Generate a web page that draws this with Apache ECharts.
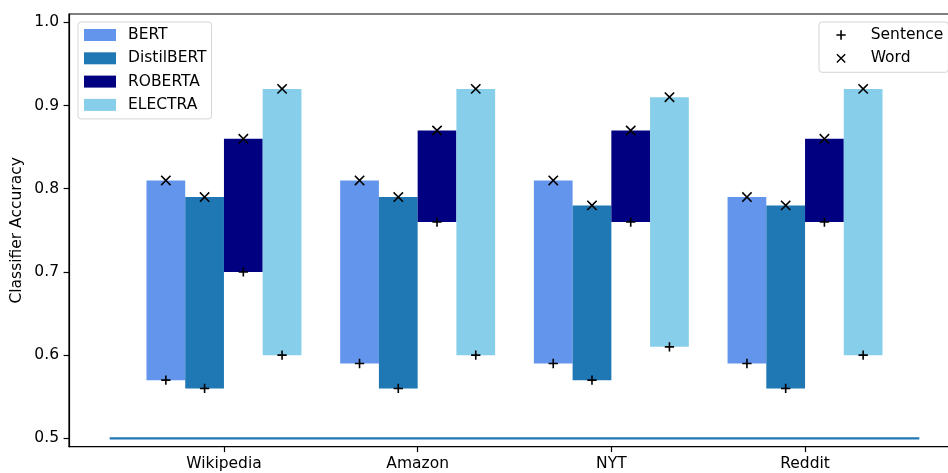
<!DOCTYPE html>
<html>
<head>
<meta charset="utf-8">
<script src="https://cdn.jsdelivr.net/npm/echarts@6/dist/echarts.min.js"></script>
<style>
html,body{margin:0;padding:0;background:#fff;}
#chart{width:948px;height:473px;}
</style>
</head>
<body>
<div id="chart"></div>
<script>
// ---- data ----
const categories = ['Wikipedia', 'Amazon', 'NYT', 'Reddit'];
const models = ['BERT', 'DistilBERT', 'ROBERTA', 'ELECTRA'];
const bertSentence      = [0.57, 0.59, 0.59, 0.59];
const bertWord          = [0.81, 0.81, 0.81, 0.79];
const distilbertSentence= [0.56, 0.56, 0.57, 0.56];
const distilbertWord    = [0.79, 0.79, 0.78, 0.78];
const robertaSentence   = [0.70, 0.76, 0.76, 0.76];
const robertaWord       = [0.86, 0.87, 0.87, 0.86];
const electraSentence   = [0.60, 0.60, 0.61, 0.60];
const electraWord       = [0.92, 0.92, 0.91, 0.92];
const yTicks = [0.5, 0.6, 0.7, 0.8, 0.9, 1.0];
const chanceLevel = 0.5;

const sentenceByModel = [bertSentence, distilbertSentence, robertaSentence, electraSentence];
const wordByModel = [bertWord, distilbertWord, robertaWord, electraWord];
const colors = ['#6495ED', '#1f77b4', '#000080', '#87CEEB'];

const FONT = 'DejaVu Sans';
const FS = 15.5;
const BAR_W = 0.2;

// marker paths
function plusPath(L, h) {
  return 'path://M' + (-h) + ',' + (-L) + ' L' + h + ',' + (-L) + ' L' + h + ',' + (-h) +
    ' L' + L + ',' + (-h) + ' L' + L + ',' + h + ' L' + h + ',' + h + ' L' + h + ',' + L +
    ' L' + (-h) + ',' + L + ' L' + (-h) + ',' + h + ' L' + (-L) + ',' + h + ' L' + (-L) + ',' + (-h) +
    ' L' + (-h) + ',' + (-h) + ' Z';
}
function crossPath(L, h) {
  const pts = [[-h,-L],[h,-L],[h,-h],[L,-h],[L,h],[h,h],[h,L],[-h,L],[-h,h],[-L,h],[-L,-h],[-h,-h]];
  const s = Math.SQRT1_2;
  const r = pts.map(p => [((p[0]-p[1])*s).toFixed(3), ((p[0]+p[1])*s).toFixed(3)]);
  return 'path://M' + r.map(p => p[0] + ',' + p[1]).join(' L') + ' Z';
}
const PLUS = plusPath(4.65, 0.8);
const CROSS = crossPath(6.6, 0.8);
const plusSize = 9.3;
const crossSize = (6.6 + 0.8) * Math.SQRT1_2 * 2;

const series = [];
models.forEach((m, i) => {
  const data = categories.map((c, j) => [j + (i - 1.5) * BAR_W, sentenceByModel[i][j], wordByModel[i][j]]);
  series.push({
    name: m,
    type: 'custom',
    itemStyle: { color: colors[i] },
    encode: { x: 0, y: [1, 2] },
    data: data,
    z: 2,
    renderItem: function (params, api) {
      const x = api.value(0), lo = api.value(1), hi = api.value(2);
      const p1 = api.coord([x - BAR_W / 2, hi]);
      const p2 = api.coord([x + BAR_W / 2, lo]);
      return {
        type: 'rect',
        shape: { x: p1[0], y: p1[1], width: p2[0] - p1[0], height: p2[1] - p1[1] },
        style: { fill: colors[i] }
      };
    }
  });
});

const sentPts = [], wordPts = [];
models.forEach((m, i) => {
  categories.forEach((c, j) => {
    const x = j + (i - 1.5) * BAR_W;
    sentPts.push([x, sentenceByModel[i][j]]);
    wordPts.push([x, wordByModel[i][j]]);
  });
});
series.push({
  name: 'Sentence', type: 'scatter', data: sentPts, symbol: PLUS, symbolSize: plusSize,
  itemStyle: { color: '#000', opacity: 1 }, z: 5, silent: true
});
series.push({
  name: 'Word', type: 'scatter', data: wordPts, symbol: CROSS, symbolSize: crossSize,
  itemStyle: { color: '#000', opacity: 1 }, z: 5, silent: true
});
series.push({
  name: 'chance', type: 'line', data: [[-0.59, chanceLevel], [3.59, chanceLevel]],
  symbol: 'none', lineStyle: { color: '#1f77b4', width: 2.3 }, z: 1, silent: true
});

const legendCommon = {
  orient: 'vertical',
  backgroundColor: 'rgba(255,255,255,0.8)',
  borderColor: '#d5d5d5',
  borderWidth: 1,
  borderRadius: 3,
  itemGap: 7.3,
  itemWidth: 32,
  itemHeight: 12,
  selectedMode: false,
  textStyle: { fontFamily: FONT, fontSize: FS, color: '#000', lineHeight: 16, padding: [0, 0, 0, 7] }
};

const option = {
  animation: false,
  backgroundColor: '#fff',
  textStyle: { fontFamily: FONT },
  grid: {
    left: 69, top: 14, height: 432.7, width: 891,
    outerBoundsMode: 'none', containLabel: false,
    show: true, borderColor: '#000', borderWidth: 1.2, backgroundColor: 'transparent'
  },
  legend: [
    Object.assign({}, legendCommon, {
      left: 78, top: 22, padding: [5, 5, 6, 6],
      data: models.map(m => ({ name: m, icon: 'rect' }))
    }),
    Object.assign({}, legendCommon, {
      left: 819, top: 22, padding: [5, 5, 6, 17.4], itemWidth: 9.3, itemHeight: 9.3,
      textStyle: Object.assign({}, legendCommon.textStyle, { padding: [0, 0, 0, 20] }),
      data: [{ name: 'Sentence', icon: PLUS }, { name: 'Word', icon: CROSS }]
    })
  ],
  xAxis: {
    type: 'value', min: -0.8, max: 3.8,
    axisLine: { show: true, onZero: false, lineStyle: { color: '#000', width: 1.2 } },
    axisTick: { show: true, length: 5.4, lineStyle: { color: '#000', width: 1.2 }, customValues: [0, 1, 2, 3] },
    axisLabel: {
      customValues: [0, 1, 2, 3], margin: 9,
      fontFamily: FONT, fontSize: FS, color: '#000',
      formatter: v => categories[Math.round(v)]
    },
    splitLine: { show: false }
  },
  yAxis: {
    type: 'value', min: 0.49, max: 1.01,
    name: 'Classifier Accuracy', nameLocation: 'middle', nameGap: 44, nameMoveOverlap: false,
    nameTextStyle: { fontFamily: FONT, fontSize: FS, color: '#000' },
    axisLine: { show: true, onZero: false, lineStyle: { color: '#000', width: 1.2 } },
    axisTick: { show: true, length: 5.4, lineStyle: { color: '#000', width: 1.2 }, customValues: yTicks },
    axisLabel: {
      customValues: yTicks, margin: 10,
      fontFamily: FONT, fontSize: FS, color: '#000',
      formatter: v => v.toFixed(1)
    },
    splitLine: { show: false }
  },
  series: series
};

const chart = echarts.init(document.getElementById('chart'), null, { renderer: 'canvas' });
chart.setOption(option);
</script>
</body>
</html>
